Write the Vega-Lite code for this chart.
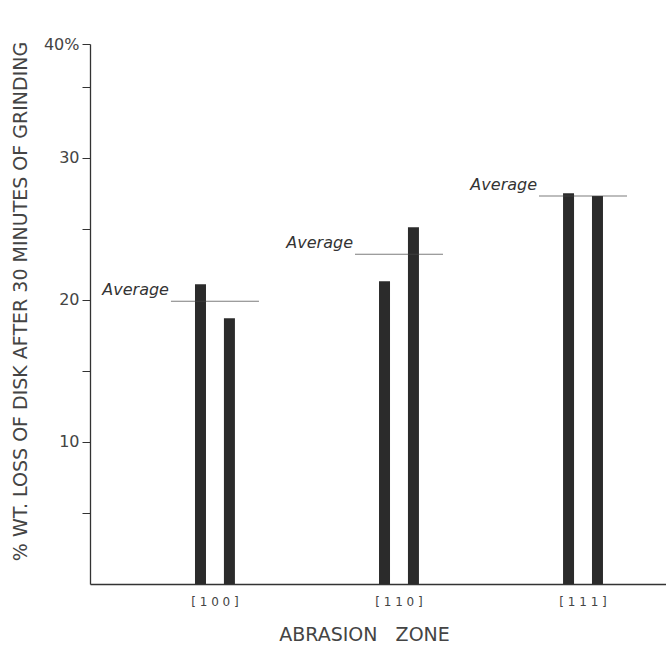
{
  "$schema": "https://vega.github.io/schema/vega-lite/v6.json",
  "width": 576,
  "height": 540,
  "autosize": {"type": "none"},
  "padding": {"left": 90, "top": 44, "right": 0, "bottom": 63},
  "background": "white",
  "config": {"view": {"stroke": null}, "font": "DejaVu Sans"},
  "datasets": {
    "bars": [
      {"zone": "[100]", "sample": "1", "loss": 21.1},
      {"zone": "[100]", "sample": "2", "loss": 18.7},
      {"zone": "[110]", "sample": "1", "loss": 21.3},
      {"zone": "[110]", "sample": "2", "loss": 25.1},
      {"zone": "[111]", "sample": "1", "loss": 27.5},
      {"zone": "[111]", "sample": "2", "loss": 27.3}
    ],
    "averages": [
      {"zone": "[100]", "avg": 19.9},
      {"zone": "[110]", "avg": 23.2},
      {"zone": "[111]", "avg": 27.3}
    ]
  },
  "layer": [
    {
      "data": {"name": "bars"},
      "mark": {"type": "bar", "color": "#2b2b2b"},
      "encoding": {
        "x": {
          "field": "zone", "type": "nominal", "sort": null,
          "scale": {"paddingInner": 0.5, "paddingOuter": 0.315, "align": 0.681},
          "title": "ABRASION\u00a0\u00a0\u00a0ZONE",
          "axis": {
            "ticks": false, "labelPadding": 12, "labelAngle": 0, "labelFontSize": 12,
            "labelExpr": "join(split(datum.label, ''), ' ')",
            "labelColor": "#444", "domainColor": "#333", "domainWidth": 1.5,
            "titleX": 274, "titleY": 50, "titleBaseline": "middle", "titleAlign": "center",
            "titleFontSize": 19, "titleFontWeight": "normal", "titleColor": "#444"
          }
        },
        "xOffset": {"field": "sample", "type": "nominal", "scale": {"paddingInner": 0.62, "paddingOuter": 0.9}},
        "y": {
          "field": "loss", "type": "quantitative",
          "scale": {"domain": [0, 38], "nice": false},
          "title": "% WT. LOSS OF DISK AFTER 30 MINUTES OF GRINDING",
          "axis": {
            "values": [5, 10, 15, 20, 25, 30, 35, 38],
            "labelExpr": "datum.value == 38 ? '40%' : (datum.value % 10 == 0 ? datum.label : '')",
            "grid": false, "tickSize": 8, "labelPadding": 3, "labelOverlap": false,
            "labelFontSize": 16, "labelColor": "#444", "domainColor": "#333", "tickColor": "#333",
            "domainWidth": 1.3,
            "titleX": -70, "titleY": 257, "titleAngle": -90, "titleBaseline": "middle", "titleAlign": "center",
            "titleFontSize": 19, "titleFontWeight": "normal", "titleColor": "#444"
          }
        }
      }
    },
    {
      "data": {"name": "averages"},
      "mark": {"type": "tick", "size": 88, "thickness": 1, "color": "#444"},
      "encoding": {
        "x": {"field": "zone", "type": "nominal", "sort": null},
        "y": {"field": "avg", "type": "quantitative"}
      }
    },
    {
      "data": {"name": "averages"},
      "mark": {"type": "text", "text": "Average", "align": "right", "baseline": "alphabetic", "dx": -46, "dy": -6, "fontStyle": "italic", "fontSize": 16, "color": "#333"},
      "encoding": {
        "x": {"field": "zone", "type": "nominal", "sort": null},
        "y": {"field": "avg", "type": "quantitative"}
      }
    }
  ]
}
